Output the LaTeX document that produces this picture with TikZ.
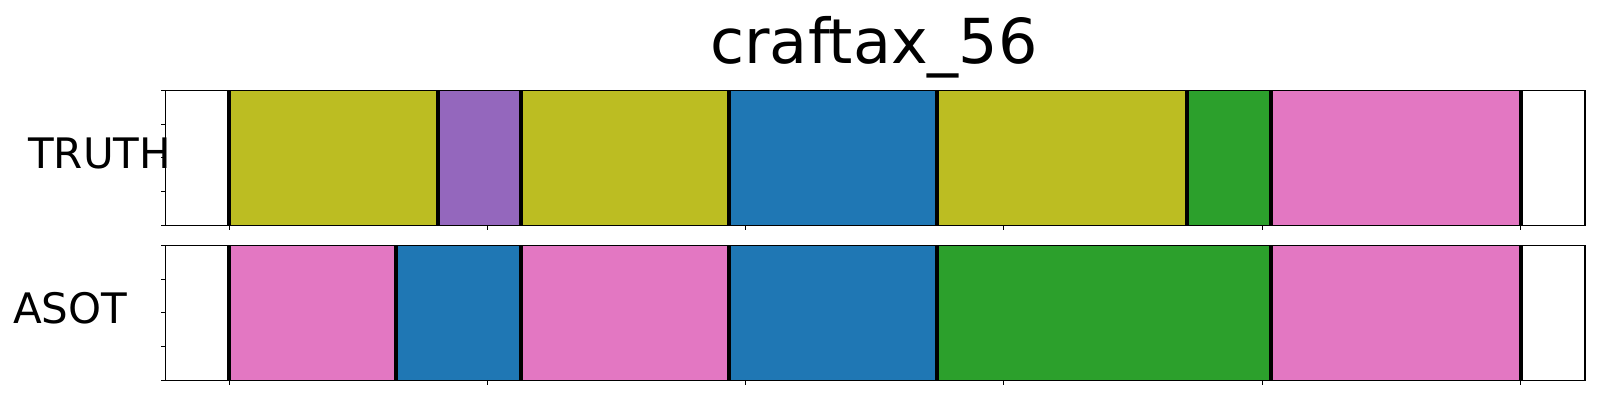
\documentclass[tikz,border=0pt]{standalone}
\usepackage{fontspec}
\setmainfont{DejaVu Sans}
\usetikzlibrary{calc}
\definecolor{tabolive}{HTML}{BCBD22}
\definecolor{tabpurple}{HTML}{9467BD}
\definecolor{tabblue}{HTML}{1F77B4}
\definecolor{tabgreen}{HTML}{2CA02C}
\definecolor{tabpink}{HTML}{E377C2}
\begin{document}
\begin{tikzpicture}[x=1pt,y=1pt]
\useasboundingbox (0,0) rectangle (1600,400);
% title and row labels
\node[anchor=base,inner sep=0] (title) at (874,336.7) {\fontsize{62}{74}\selectfont craftax\_56};
\node[anchor=base west,inner sep=0] (truth) at (28,231.7) {\fontsize{42}{50}\selectfont TRUTH};
\node[anchor=base west,inner sep=0] (asot) at (13,76.7) {\fontsize{42}{50}\selectfont ASOT};
% segments
\foreach \a/\b/\c in {229/438/tabolive,438/521/tabpurple,521/728.7/tabolive,728.7/937/tabblue,937/1187/tabolive,1187/1271/tabgreen,1271/1520.5/tabpink}
\fill[\c] (\a,174.7) rectangle (\b,309.7);
\foreach \a/\b/\c in {229/396/tabpink,396/521/tabblue,521/728.7/tabpink,728.7/937/tabblue,937/1271/tabgreen,1271/1520.5/tabpink}
\fill[\c] (\a,19.7) rectangle (\b,154.7);
\foreach \x in {229,438,521,728.7,937,1187,1271,1520.5}
\draw[line width=4pt] (\x,174.7) -- (\x,309.7);
\foreach \x in {229,396,521,728.7,937,1271,1520.5}
\draw[line width=4pt] (\x,19.7) -- (\x,154.7);
% frames and ticks
\foreach \y in {174.7,19.7}{
\draw[line width=1.5pt] (165.7,\y) rectangle (1585,\y+135);
\foreach \i in {0,...,5}
\draw[line width=1pt] (229+258.3*\i,\y) -- (229+258.3*\i,\y-5);
\foreach \j in {0,...,4}
\draw[line width=1pt] (165.7,\y+33.75*\j) -- (160.7,\y+33.75*\j);
}
\end{tikzpicture}
\end{document}
